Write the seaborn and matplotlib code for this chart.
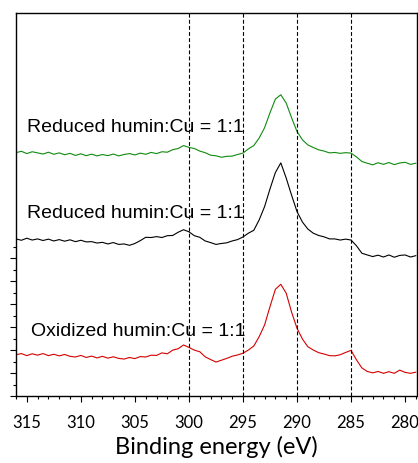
import numpy as np
import pandas as pd
import matplotlib
matplotlib.use("Agg")
import matplotlib.pyplot as plt
import seaborn as sns

# binding energy grid (eV), 316 -> 279 in 0.5 eV steps
energy = np.arange(316.0, 278.9, -0.5)

# intensities (arb. units, stacked with offsets)
green = [21.22, 21.34, 21.14, 21.30, 21.20, 21.10, 21.26, 21.08, 21.20, 21.04,
         21.16, 20.98, 21.12, 20.96, 21.09, 20.94, 21.06, 20.96, 21.10, 20.94,
         21.06, 21.14, 21.02, 21.18, 21.08, 21.24, 21.14, 21.30, 21.26, 21.48,
         21.58, 21.84, 21.68, 21.58, 21.36, 21.22, 21.00, 20.95, 20.82, 20.90,
         20.92, 21.06, 21.18, 21.55, 21.84, 22.50, 23.40, 24.70, 25.90, 26.27,
         25.54, 24.26, 23.06, 22.34, 21.90, 21.67, 21.47, 21.36, 21.20, 21.24,
         21.16, 21.22, 21.18, 20.85, 20.45, 20.30, 20.16, 20.34, 20.20, 20.36,
         20.18, 20.32, 20.38, 20.20, 20.30]
black = [13.70, 13.58, 13.76, 13.60, 13.70, 13.56, 13.68, 13.52, 13.64, 13.50,
         13.62, 13.46, 13.58, 13.44, 13.46, 13.34, 13.40, 13.26, 13.38, 13.22,
         13.26, 13.14, 13.30, 13.55, 13.84, 13.82, 13.90, 13.82, 13.98, 14.00,
         14.28, 14.50, 14.32, 13.98, 13.84, 13.52, 13.38, 13.22, 13.30, 13.36,
         13.52, 13.64, 13.87, 14.20, 14.45, 15.36, 16.52, 18.06, 19.49, 20.33,
         19.00, 17.50, 16.08, 15.17, 14.56, 14.20, 14.00, 13.88, 13.70, 13.70,
         13.60, 13.68, 13.60, 13.10, 12.45, 12.30, 12.16, 12.28, 12.12, 12.30,
         12.10, 12.26, 12.30, 12.12, 12.24]
red = [3.60, 3.70, 3.52, 3.68, 3.56, 3.70, 3.52, 3.64, 3.50, 3.62,
       3.46, 3.40, 3.54, 3.36, 3.48, 3.32, 3.46, 3.30, 3.42, 3.28,
       3.22, 3.36, 3.26, 3.44, 3.40, 3.56, 3.54, 3.76, 3.68, 4.00,
       4.12, 4.45, 4.24, 4.00, 3.86, 3.42, 3.18, 2.96, 3.12, 3.28,
       3.47, 3.58, 3.73, 4.01, 4.36, 5.18, 6.20, 7.80, 9.31, 9.74,
       8.96, 7.30, 5.90, 4.97, 4.30, 4.01, 3.78, 3.66, 3.52, 3.50,
       3.60, 3.80, 3.98, 3.15, 2.45, 2.14, 2.02, 2.14, 1.98, 2.12,
       1.98, 2.26, 2.06, 1.98, 2.08]

labels = ["Reduced humin:Cu = 1:1", "Reduced humin:Cu = 1:1", "Oxidized humin:Cu = 1:1"]
label_pos = [(315.0, 23.04), (315.0, 15.53), (314.6, 5.24)]
colors = ["#108a10", "#000000", "#d40000"]
ref_lines = [300, 295, 290, 285]

sns.set_style("ticks")
plt.rcParams["font.family"] = ["Lato", "DejaVu Sans"]
plt.rcParams["text.color"] = "black"
plt.rcParams["axes.labelcolor"] = "black"
plt.rcParams["xtick.color"] = "black"
plt.rcParams["ytick.color"] = "black"

fig = plt.figure(figsize=(4.18, 4.63), dpi=100)
ax = fig.add_axes([16 / 418, 67 / 463, 401 / 418, 383 / 463])

for ys, c in zip([green, black, red], colors):
    sns.lineplot(x=energy, y=ys, color=c, linewidth=0.8, ax=ax)

for e in ref_lines:
    ax.axvline(e, color="black", linewidth=0.8, dashes=(3.5, 2), zorder=3)

for txt, (xp, yp) in zip(labels, label_pos):
    ax.text(xp, yp, txt, fontsize=14, family=["Liberation Sans"],
            color="black", ha="left", va="baseline")

ax.set_xlim(315.8, 278.9)
ax.set_ylim(0, 33.4)
ax.set_xticks([315, 310, 305, 300, 295, 290, 285, 280])
ax.set_xticks(np.arange(316, 278, -1), minor=True)
ax.set_yticks([0, 2, 4, 6, 8, 10, 12])
ax.set_yticks([1, 3, 5, 7, 9, 11, 13], minor=True)
ax.set_yticklabels([])
ax.tick_params(axis="both", which="major", direction="out", length=4, width=0.8, color="black")
ax.tick_params(axis="both", which="minor", direction="out", length=2.2, width=0.8, color="black")
ax.tick_params(axis="x", labelsize=12, pad=10, labelcolor="black")
ax.set_xlabel("Binding energy (eV)", fontsize=17, labelpad=3, color="black")
ax.set_ylabel("")
for s in ax.spines.values():
    s.set_color("black")
    s.set_linewidth(1.0)

fig.savefig("out.png", dpi=100)
